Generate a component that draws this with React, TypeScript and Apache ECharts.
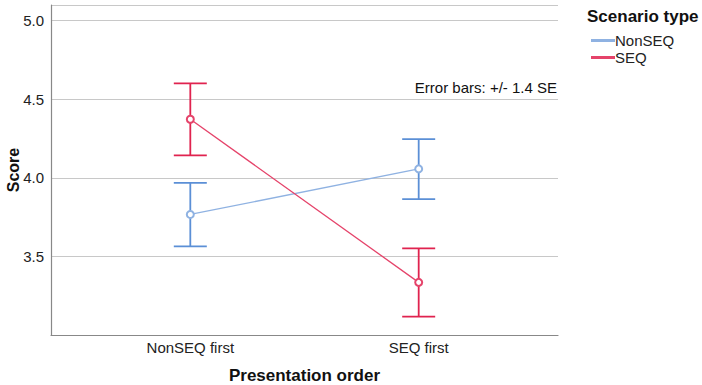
import React, { useEffect, useRef } from "react";
import * as echarts from "echarts";

const categories = ["NonSEQ first", "SEQ first"];
const seriesNames = ["NonSEQ", "SEQ"];
const nonSeqMean = [3.767, 4.057];
const nonSeqLow = [3.564, 3.865];
const nonSeqHigh = [3.968, 4.246];
const seqMean = [4.373, 3.335];
const seqLow = [4.143, 3.117];
const seqHigh = [4.601, 3.551];
const yTicks = [3.5, 4.0, 4.5, 5.0];

const BLUE_LINE = "#8fb2e2";
const BLUE_BAR = "#5b8fd6";
const RED_LINE = "#e5436a";
const RED_BAR = "#e0234f";

function errorSeries(name: string, low: number[], high: number[], color: string) {
  return {
    type: "custom",
    name: name + "-err",
    silent: true,
    z: 3,
    data: low.map((l, i) => [i, l, high[i]]),
    renderItem: (params: any, api: any) => {
      const x = api.value(0);
      const lo = api.coord([x, api.value(1)]);
      const hi = api.coord([x, api.value(2)]);
      const hw = 16.5;
      const style = { stroke: color, lineWidth: 1.8 };
      return {
        type: "group",
        children: [
          { type: "line", shape: { x1: lo[0], y1: lo[1], x2: hi[0], y2: hi[1] }, style },
          { type: "line", shape: { x1: lo[0] - hw, y1: lo[1], x2: lo[0] + hw, y2: lo[1] }, style },
          { type: "line", shape: { x1: hi[0] - hw, y1: hi[1], x2: hi[0] + hw, y2: hi[1] }, style },
        ],
      };
    },
  };
}

export default function App() {
  const ref = useRef<HTMLDivElement>(null);
  useEffect(() => {
    if (!ref.current) return;
    const chart = echarts.init(ref.current, undefined, { renderer: "svg" });
    const font = "Liberation Sans, Arial, sans-serif";
    chart.setOption({
      animation: false,
      textStyle: { fontFamily: font },
      grid: { left: 51, right: 144, top: 5, bottom: 50, containLabel: false, outerBoundsMode: "none" },
      xAxis: {
        type: "value",
        min: -0.61,
        max: 1.61,
        name: "Presentation order",
        nameLocation: "middle",
        nameGap: 32,
        nameMoveOverlap: false,
        nameTextStyle: { fontSize: 17, fontWeight: "bold", color: "#111", fontFamily: font },
        axisLine: { show: true, onZero: false, lineStyle: { color: "#888", width: 1.2 } },
        axisTick: { show: false },
        splitLine: { show: false },
        axisLabel: {
          customValues: [0, 1],
          formatter: (v: number) => categories[Math.round(v)] ?? "",
          fontSize: 15,
          color: "#222",
          margin: 5,
          fontFamily: font,
        },
      },
      yAxis: {
        type: "value",
        min: 3.0,
        max: 5.1,
        interval: 0.5,
        name: "Score",
        nameLocation: "middle",
        nameGap: 38,
        nameMoveOverlap: false,
        nameRotate: 90,
        nameTextStyle: { fontSize: 16, fontWeight: "bold", color: "#111", fontFamily: font, verticalAlign: "middle" },
        axisLine: { show: true, onZero: false, lineStyle: { color: "#888", width: 1.2 } },
        axisTick: { show: false },
        splitLine: { show: true, lineStyle: { color: "#c8c8c8", width: 1.2 } },
        axisLabel: {
          fontSize: 15,
          color: "#222",
          margin: 7,
          fontFamily: font,
          formatter: (v: number) => (yTicks.some((t) => Math.abs(t - v) < 1e-6) ? v.toFixed(1) : ""),
        },
      },
      legend: {
        orient: "vertical",
        left: 586,
        top: 28,
        itemWidth: 22,
        itemHeight: 1,
        itemGap: 2,
        icon: "rect",
        textStyle: { fontSize: 15, color: "#222", padding: [0, 0, 0, -4], fontFamily: font },
        data: seriesNames,
      },
      graphic: [
        {
          type: "text",
          left: 587,
          top: 8,
          style: { text: "Scenario type", fontSize: 17, fontWeight: "bold", fill: "#111", fontFamily: font },
        },
        {
          type: "text",
          right: 145,
          top: 80,
          style: { text: "Error bars: +/- 1.4 SE", fontSize: 15, fill: "#111", fontFamily: font },
        },
      ],
      series: [
        errorSeries("NonSEQ", nonSeqLow, nonSeqHigh, BLUE_BAR),
        errorSeries("SEQ", seqLow, seqHigh, RED_BAR),
        {
          type: "line",
          name: "NonSEQ",
          data: nonSeqMean.map((v, i) => [i, v]),
          color: BLUE_LINE,
          lineStyle: { color: BLUE_LINE, width: 1.3 },
          symbol: "emptyCircle",
          symbolSize: 7,
          itemStyle: { color: BLUE_LINE, borderColor: BLUE_LINE, borderWidth: 1 },
          z: 4,
        },
        {
          type: "line",
          name: "SEQ",
          data: seqMean.map((v, i) => [i, v]),
          color: RED_LINE,
          lineStyle: { color: RED_LINE, width: 1.3 },
          symbol: "emptyCircle",
          symbolSize: 7,
          itemStyle: { color: RED_LINE, borderColor: RED_LINE, borderWidth: 1 },
          z: 4,
        },
      ],
    });
    return () => chart.dispose();
  }, []);
  return <div ref={ref} style={{ width: 702, height: 385, position: "absolute", left: 0, top: 0 }} />;
}
